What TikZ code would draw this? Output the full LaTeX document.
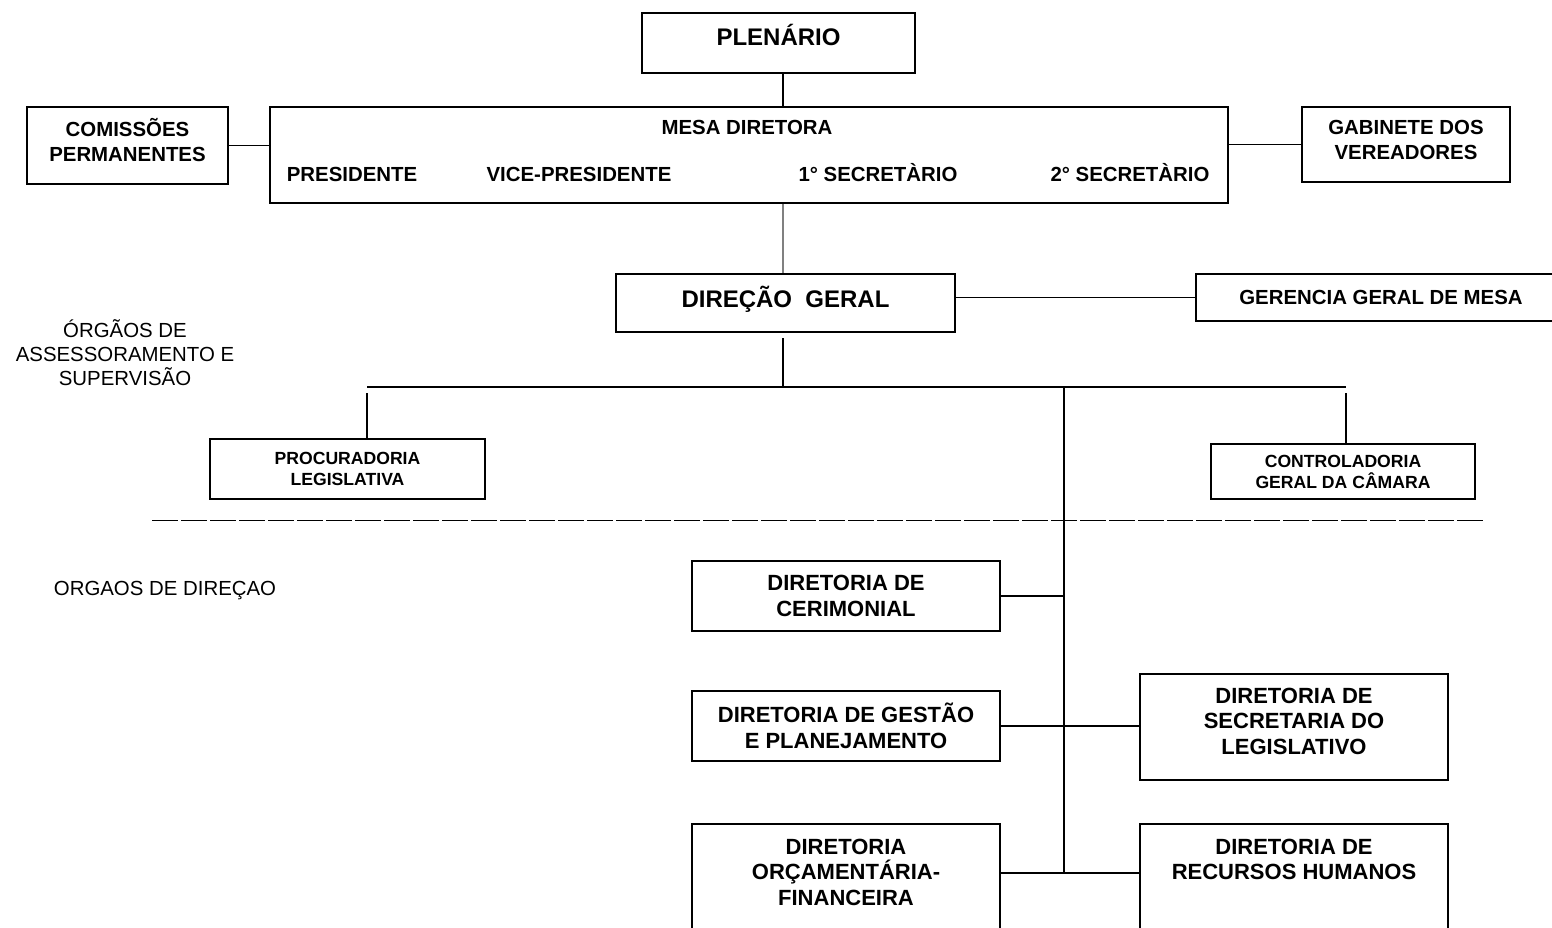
\documentclass[tikz,border=0pt]{standalone}
\usepackage{fontspec}
\setmainfont{Liberation Sans}
\usetikzlibrary{positioning}

\begin{document}
\begin{tikzpicture}[%
    x=0.5pt, y=-0.5pt,
    box/.style={%
        draw,
        line width=1pt,
        align=center,
        inner sep=0pt
    },
    headbox/.style={%
        box,
        font=\fontsize{12}{14}\selectfont\bfseries
    },
    unitbox/.style={%
        box,
        font=\fontsize{10.2}{12.5}\selectfont\bfseries
    },
    smallbox/.style={%
        box,
        font=\fontsize{8.8}{10.5}\selectfont\bfseries
    },
    dirbox/.style={%
        box,
        font=\fontsize{11}{13.2}\selectfont\bfseries
    },
    office/.style={%
        anchor=base,
        inner sep=0pt,
        font=\fontsize{10.2}{12}\selectfont\bfseries
    },
    sidenote/.style={%
        align=center,
        inner sep=0pt,
        font=\fontsize{10.2}{12}\selectfont
    },
    wire/.style={%
        line width=0.95pt
    }
]
\useasboundingbox (0,0) rectangle (1552,927);
\clip (0,0) rectangle (1552,927);

% Top
    \node[headbox, minimum width=136.5pt, minimum height=30pt, text depth=8pt] (plenario) at (778.5,43) {PLENÁRIO};

% Mesa diretora
    \node[box, minimum width=479pt, minimum height=48pt] (mesa) at (749,155) {};
    \node[office] (mesaTitle) at (747,134) {MESA DIRETORA};
    \node[office] (presidente) at (352,181) {PRESIDENTE};
    \node[office] (vice) at (579,181) {VICE-PRESIDENTE};
    \node[office] (sec1) at (878,181) {1° SECRETÀRIO};
    \node[office] (sec2) at (1130,181) {2° SECRETÀRIO};

    \node[unitbox, minimum width=100.5pt, minimum height=38.5pt, text depth=6pt] (comissoes) at (127.5,145.5) {COMISSÕES\\PERMANENTES};
    \node[unitbox, minimum width=104pt, minimum height=37.5pt, text depth=5pt] (gabinete) at (1406,144.5) {GABINETE DOS\\VEREADORES};

% Direcao geral
    \node[headbox, minimum width=169.5pt, minimum height=29pt, text depth=6pt] (direcao) at (785.5,303) {DIREÇÃO\ \ GERAL};
    \node[unitbox, minimum width=185pt, minimum height=23.5pt] (gerencia) at (1381,297.5) {GERENCIA GERAL DE MESA};

% Assessoramento
    \node[sidenote] (assessoramento) at (125,353) {ÓRGÃOS DE\\ASSESSORAMENTO E\\SUPERVISÃO};
    \node[smallbox, minimum width=137.5pt, minimum height=30pt] (procuradoria) at (347.5,469) {PROCURADORIA\\LEGISLATIVA};
    \node[smallbox, minimum width=132pt, minimum height=27.5pt] (controladoria) at (1343,471.5) {CONTROLADORIA\\GERAL DA CÂMARA};

    \coordinate (bus) at (783,387);
    \coordinate (busL) at (367,387);
    \coordinate (busR) at (1346,387);
    \coordinate (trunk) at (1064,387);
    \coordinate (trunkEnd) at (1064,873);

% Separator
    \coordinate (sepL) at (152,520);
    \coordinate (sepR) at (1483,520);
    \draw[line width=0.5pt, dash pattern=on 13pt off 1.5pt] (sepL) -- (sepR);

% Direcao
    \node[sidenote] (direcaoNote) at (165,591) {ORGAOS DE DIREÇAO};
    \node[dirbox, minimum width=154pt, minimum height=35pt] (cerimonial) at (846,596) {DIRETORIA DE\\CERIMONIAL};
    \node[dirbox, minimum width=154pt, minimum height=35pt] (gestao) at (846,726) {DIRETORIA DE GESTÃO\\E PLANEJAMENTO};
    \node[dirbox, font=\fontsize{11}{12.75}\selectfont\bfseries, minimum width=154pt, minimum height=53pt, text depth=6pt] (secretaria) at (1294,727) {DIRETORIA DE\\SECRETARIA DO\\LEGISLATIVO};
    \node[dirbox, font=\fontsize{11}{12.75}\selectfont\bfseries, anchor=north, minimum width=154pt, inner ysep=7.5pt, text depth=40pt] (orcamento) at (846,823) {DIRETORIA\\ORÇAMENTÁRIA-\\FINANCEIRA};
    \node[dirbox, font=\fontsize{11}{12.75}\selectfont\bfseries, anchor=north, minimum width=154pt, inner ysep=7.5pt, text depth=40pt] (rh) at (1294,823) {DIRETORIA DE\\RECURSOS HUMANOS\\\strut};

% Lines
\draw[wire] (bus |- plenario.south) -- (bus |- mesa.north);
\draw[wire] (comissoes.east) -- (comissoes.east -| mesa.west);
\draw[wire] (gabinete.west -| mesa.east) -- (gabinete.west);
\draw[line width=1.1pt, gray] (bus |- mesa.south) -- (bus |- direcao.north);
\draw[wire] (direcao.east |- gerencia.west) -- (gerencia.west);

\draw[wire, shorten <=2.5pt] (bus |- direcao.south) -- (bus);
\draw[wire] (busL) -- (busR);
\draw[wire, shorten <=3pt] (busL) -- (busL |- procuradoria.north);
\draw[wire, shorten <=3pt] (busR) -- (busR |- controladoria.north);
\draw[wire] (trunk) -- (trunkEnd);

\draw[wire] (cerimonial.east) -- (cerimonial.east -| trunk);
\draw[wire] (gestao.east) -- (gestao.east -| secretaria.west);
\draw[wire] (orcamento.east |- trunkEnd) -- (rh.west |- trunkEnd);

\end{tikzpicture}
\end{document}
